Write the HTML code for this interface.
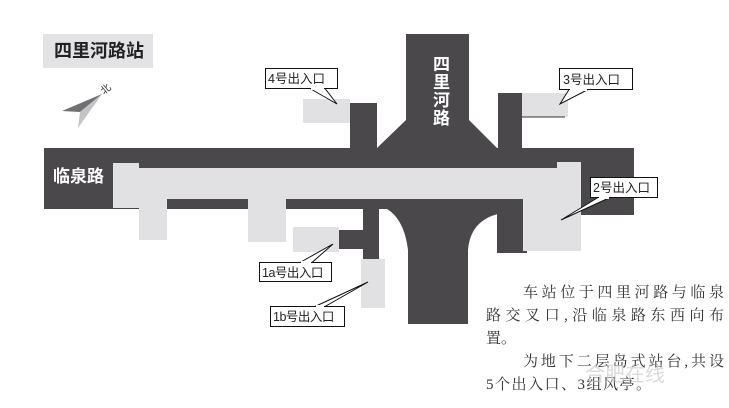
<!DOCTYPE html>
<html><head><meta charset="utf-8"><style>
html,body{margin:0;padding:0;background:#fff;}
svg{display:block;}
.lb{font-family:"Liberation Sans","Noto Sans CJK SC",sans-serif;font-size:12.5px;fill:#222;}
.tx{font-family:"Liberation Serif","Noto Serif CJK SC",serif;font-size:15px;fill:#333;}
</style></head><body>
<svg width="729" height="408" viewBox="0 0 729 408" xmlns="http://www.w3.org/2000/svg">
<rect width="729" height="408" fill="#fff"/>
<rect x="43" y="34" width="110" height="34" fill="#e3e3e5"/>
<text x="54" y="57" font-family="Liberation Sans,Noto Sans CJK SC,sans-serif" font-size="18" font-weight="bold" fill="#222">四里河路站</text>
<polygon points="102,94 62,111 80,112" fill="#707072"/>
<polygon points="102,94 80,112 78,128" fill="#c4c4c6"/>
<text x="100" y="92" font-family="Liberation Sans,Noto Sans CJK SC,sans-serif" font-size="10" fill="#333" transform="rotate(-40 106 88)">北</text>
<g fill="#4a484b">
<rect x="44" y="148" width="590" height="61"/>
<rect x="497" y="148" width="137" height="67"/>
<polygon points="406,34 469,34 469,120 497,148 377,148 406,120"/>
<rect x="350" y="103" width="27" height="46"/>
<rect x="498" y="93" width="24" height="56"/>
<path d="M378,205 C395,210 405,225 408,250 L408,324 L468,324 L468,250 C470,228 482,218 498,214 L498,205 Z"/>
<rect x="363" y="205" width="16" height="55"/>
<rect x="339" y="230" width="26" height="19"/>
<rect x="497" y="205" width="30" height="48"/>
</g>
<g fill="#e1e0e2">
<rect x="113" y="168" width="468" height="31"/>
<rect x="113" y="163" width="26" height="45"/>
<rect x="139" y="195" width="28" height="45"/>
<rect x="248" y="195" width="38" height="47"/>
<rect x="557" y="162" width="24" height="40"/>
<rect x="523" y="195" width="58" height="56"/>
<rect x="303" y="99" width="47" height="24"/>
<rect x="522" y="93" width="46" height="24"/>
<rect x="293" y="227" width="46" height="25"/>
<rect x="361" y="259" width="24" height="49"/>
</g>
<line x1="522" y1="117" x2="565" y2="117" stroke="#333" stroke-width="1"/>
<text x="53" y="182" font-family="Liberation Sans,Noto Sans CJK SC,sans-serif" font-size="17" font-weight="bold" fill="#fff">临泉路</text>
<g font-family="Liberation Sans,Noto Sans CJK SC,sans-serif" font-size="17" font-weight="bold" fill="#fff">
<text x="433" y="70">四</text><text x="433" y="88">里</text><text x="433" y="106">河</text><text x="433" y="124">路</text>
</g>
<g stroke="#111" stroke-width="1" fill="#fff">
<rect x="265.5" y="68.5" width="72" height="20"/>
<rect x="559.5" y="68.5" width="73" height="21"/>
<rect x="590.5" y="177.5" width="67" height="20"/>
<rect x="259.5" y="262.5" width="72" height="19"/>
<rect x="270.5" y="306.5" width="74" height="20"/>
<polygon points="310,88.5 337,104 325,88.5"/>
<polygon points="569,89.5 560,104 588,89.5"/>
<polygon points="598,197.5 561,220 610,197.5"/>
<polygon points="300,262.5 333,244 312,262.5"/>
<polygon points="315,306.5 368,282 325,306.5"/>
</g>
<g fill="#fff">
<rect x="311" y="87" width="13" height="3"/>
<rect x="570" y="88" width="17" height="3"/>
<rect x="599" y="196" width="10" height="3"/>
<rect x="301" y="261" width="10" height="3"/>
<rect x="316" y="305" width="8" height="3"/>
</g>
<text class="lb" x="268" y="83">4号出入口</text>
<text class="lb" x="563" y="84">3号出入口</text>
<text class="lb" x="593" y="192">2号出入口</text>
<text class="lb" x="262" y="277" letter-spacing="-0.5">1a号出入口</text>
<text class="lb" x="273" y="321" letter-spacing="-0.5">1b号出入口</text>
<text class="tx" x="523" y="297" textLength="201" lengthAdjust="spacing">车站位于四里河路与临泉</text>
<text class="tx" x="486" y="320" textLength="238" lengthAdjust="spacing">路交叉口,沿临泉路东西向布</text>
<text class="tx" x="486" y="343">置。</text>
<text class="tx" x="523" y="366" textLength="201" lengthAdjust="spacing">为地下二层岛式站台,共设</text>
<text class="tx" x="486" y="389" textLength="165" lengthAdjust="spacing">5个出入口、3组风亭。</text>
<text x="585" y="381" font-family="Liberation Sans,Noto Sans CJK SC,sans-serif" font-size="20" fill="#ccc" opacity="0.7">合肥在线</text>
</svg>
</body></html>
